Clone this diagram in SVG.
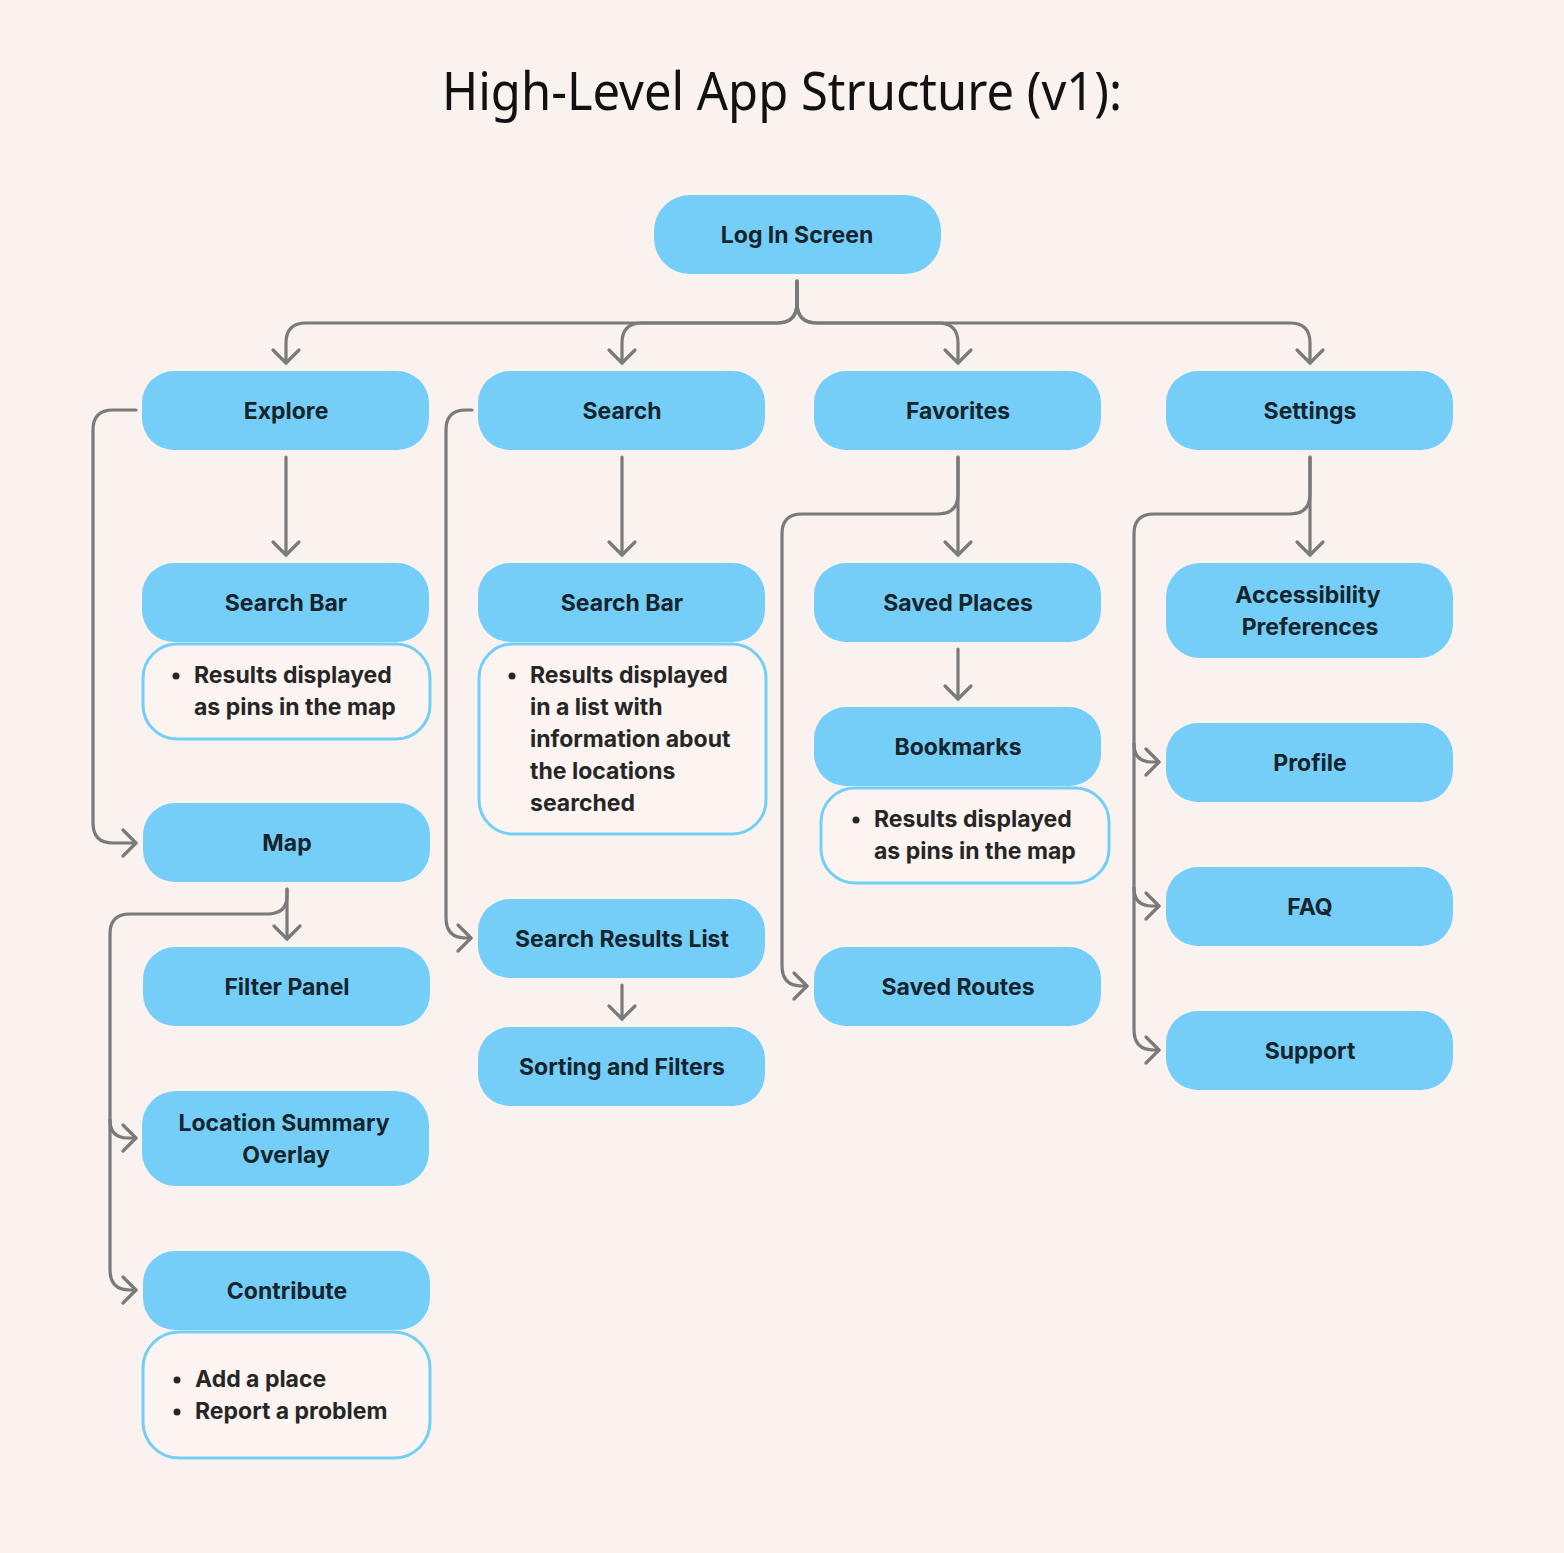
<svg xmlns="http://www.w3.org/2000/svg" width="1564" height="1553" viewBox="0 0 1564 1553">
<defs>
<style>
.node{fill:#74CEF8;}
.note{fill:#FBF4F1;stroke:#74CEF8;stroke-width:3;}
.lbl{font-family:Inter,"Noto Sans",sans-serif;font-weight:700;font-size:23px;fill:#16242c;text-anchor:middle;}
.ntxt{font-family:Inter,"Noto Sans",sans-serif;font-weight:700;font-size:23px;fill:#262626;}
.title{font-family:"Noto Sans","Open Sans",sans-serif;font-size:52px;fill:#111;text-anchor:middle;}
.con{fill:none;stroke:#7a7a7a;stroke-width:3.2;stroke-linecap:round;stroke-linejoin:round;}
</style>
<marker id="ah" markerUnits="userSpaceOnUse" viewBox="-16 -16 32 32" markerWidth="32" markerHeight="32" refX="0" refY="0" orient="auto">
<path d="M-13,-13 L0,0 L-13,13" fill="none" stroke="#7a7a7a" stroke-width="3.2" stroke-linecap="round" stroke-linejoin="round"/>
</marker>
</defs>
<rect width="1564" height="1553" fill="#F9F2EF"/>
<text class="title" x="782" y="110" textLength="680" lengthAdjust="spacingAndGlyphs">High-Level App Structure (v1):</text>

<g id="connectors">
<path class="con" marker-end="url(#ah)" d="M797,281 V303 Q797,323 777,323 H306 Q286,323 286,343 V363"/>
<path class="con" marker-end="url(#ah)" d="M797,281 V303 Q797,323 777,323 H642 Q622,323 622,343 V363"/>
<path class="con" marker-end="url(#ah)" d="M797,281 V303 Q797,323 817,323 H938 Q958,323 958,343 V363"/>
<path class="con" marker-end="url(#ah)" d="M797,281 V303 Q797,323 817,323 H1290 Q1310,323 1310,343 V363"/>

<path class="con" marker-end="url(#ah)" d="M286,457 V555"/>
<path class="con" marker-end="url(#ah)" d="M136,410 H113 Q93,410 93,430 V823 Q93,843 113,843 H136"/>
<path class="con" marker-end="url(#ah)" d="M287,889 V939"/>
<path class="con" marker-end="url(#ah)" d="M287,889 V896 Q287,914 267,914 H130 Q110,914 110,934 V1270 Q110,1290 130,1290 H136"/>
<path class="con" marker-end="url(#ah)" d="M110,1120 Q110,1138 128,1138 H136"/>

<path class="con" marker-end="url(#ah)" d="M622,457 V555"/>
<path class="con" marker-end="url(#ah)" d="M472,410 H466 Q446,410 446,430 V918 Q446,938 466,938 H471"/>
<path class="con" marker-end="url(#ah)" d="M622,985 V1019"/>

<path class="con" marker-end="url(#ah)" d="M958,457 V555"/>
<path class="con" marker-end="url(#ah)" d="M958,457 V494 Q958,514 938,514 H802 Q782,514 782,534 V966 Q782,986 802,986 H807"/>
<path class="con" marker-end="url(#ah)" d="M958,649 V699"/>

<path class="con" marker-end="url(#ah)" d="M1310,457 V555"/>
<path class="con" marker-end="url(#ah)" d="M1310,457 V494 Q1310,514 1290,514 H1154 Q1134,514 1134,534 V1030 Q1134,1050 1154,1050 H1159"/>
<path class="con" marker-end="url(#ah)" d="M1134,744 Q1134,762 1152,762 H1159"/>
<path class="con" marker-end="url(#ah)" d="M1134,888 Q1134,906 1152,906 H1159"/>
</g>

<g id="login"><rect class="node" x="654" y="195" width="287" height="79" rx="36"/><text class="lbl" x="797" y="243">Log In Screen</text></g>

<g id="explore"><rect class="node" x="142" y="371" width="287" height="79" rx="32"/><text class="lbl" x="286" y="419">Explore</text></g>
<g id="search"><rect class="node" x="478" y="371" width="287" height="79" rx="32"/><text class="lbl" x="622" y="419">Search</text></g>
<g id="favorites"><rect class="node" x="814" y="371" width="287" height="79" rx="32"/><text class="lbl" x="958" y="419">Favorites</text></g>
<g id="settings"><rect class="node" x="1166" y="371" width="287" height="79" rx="32"/><text class="lbl" x="1310" y="419">Settings</text></g>

<g id="explore-searchbar"><rect class="node" x="142" y="563" width="287" height="79" rx="32"/><text class="lbl" x="286" y="611">Search Bar</text></g>
<g id="explore-note"><rect class="note" x="143" y="644" width="287" height="95" rx="34"/>
<circle cx="176" cy="676" r="3.5" fill="#262626"/>
<text class="ntxt" x="194" y="683">Results displayed</text><text class="ntxt" x="194" y="715">as pins in the map</text></g>

<g id="map"><rect class="node" x="143" y="803" width="287" height="79" rx="32"/><text class="lbl" x="287" y="851">Map</text></g>
<g id="filter-panel"><rect class="node" x="143" y="947" width="287" height="79" rx="32"/><text class="lbl" x="287" y="995">Filter Panel</text></g>
<g id="location-summary"><rect class="node" x="142" y="1091" width="287" height="95" rx="34"/><text class="lbl" x="284" y="1131">Location Summary</text><text class="lbl" x="286" y="1163">Overlay</text></g>
<g id="contribute"><rect class="node" x="143" y="1251" width="287" height="79" rx="32"/><text class="lbl" x="287" y="1299">Contribute</text></g>
<g id="contribute-note"><rect class="note" x="143" y="1332" width="287" height="126" rx="36"/>
<circle cx="177" cy="1380" r="3.5" fill="#262626"/><circle cx="177" cy="1412" r="3.5" fill="#262626"/>
<text class="ntxt" x="195" y="1387">Add a place</text><text class="ntxt" x="195" y="1419">Report a problem</text></g>

<g id="search-searchbar"><rect class="node" x="478" y="563" width="287" height="79" rx="32"/><text class="lbl" x="622" y="611">Search Bar</text></g>
<g id="search-note"><rect class="note" x="479" y="644" width="287" height="190" rx="34"/>
<circle cx="512" cy="676" r="3.5" fill="#262626"/>
<text class="ntxt" x="530" y="683">Results displayed</text>
<text class="ntxt" x="530" y="715">in a list with</text>
<text class="ntxt" x="530" y="747">information about</text>
<text class="ntxt" x="530" y="779">the locations</text>
<text class="ntxt" x="530" y="811">searched</text></g>
<g id="search-results"><rect class="node" x="478" y="899" width="287" height="79" rx="32"/><text class="lbl" x="622" y="947">Search Results List</text></g>
<g id="sorting-filters"><rect class="node" x="478" y="1027" width="287" height="79" rx="32"/><text class="lbl" x="622" y="1075">Sorting and Filters</text></g>

<g id="saved-places"><rect class="node" x="814" y="563" width="287" height="79" rx="32"/><text class="lbl" x="958" y="611">Saved Places</text></g>
<g id="bookmarks"><rect class="node" x="814" y="707" width="287" height="79" rx="32"/><text class="lbl" x="958" y="755">Bookmarks</text></g>
<g id="bookmarks-note"><rect class="note" x="821" y="788" width="288" height="95" rx="34"/>
<circle cx="856" cy="820" r="3.5" fill="#262626"/>
<text class="ntxt" x="874" y="827">Results displayed</text><text class="ntxt" x="874" y="859">as pins in the map</text></g>
<g id="saved-routes"><rect class="node" x="814" y="947" width="287" height="79" rx="32"/><text class="lbl" x="958" y="995">Saved Routes</text></g>

<g id="accessibility"><rect class="node" x="1166" y="563" width="287" height="95" rx="34"/><text class="lbl" x="1308" y="603">Accessibility</text><text class="lbl" x="1310" y="635">Preferences</text></g>
<g id="profile"><rect class="node" x="1166" y="723" width="287" height="79" rx="32"/><text class="lbl" x="1310" y="771">Profile</text></g>
<g id="faq"><rect class="node" x="1166" y="867" width="287" height="79" rx="32"/><text class="lbl" x="1310" y="915">FAQ</text></g>
<g id="support"><rect class="node" x="1166" y="1011" width="287" height="79" rx="32"/><text class="lbl" x="1310" y="1059">Support</text></g>
</svg>
